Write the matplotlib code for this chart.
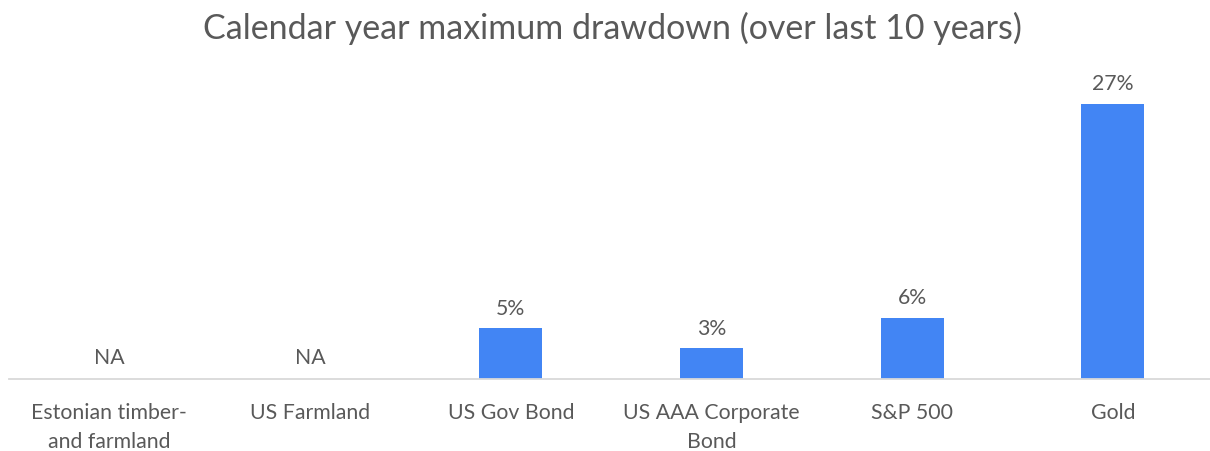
import numpy as np
import matplotlib
matplotlib.use("Agg")
import matplotlib.pyplot as plt

categories = ["Estonian timber-\nand farmland", "US Farmland", "US Gov Bond",
              "US AAA Corporate\nBond", "S&P 500", "Gold"]
values = [np.nan, np.nan, 5, 3, 6, 27]

plt.rcParams['font.family'] = ['Lato', 'DejaVu Sans']
text_color = "#595959"
bar_color = "#4285F4"

W, H = 1210, 452
fig = plt.figure(figsize=(W / 100, H / 100), dpi=100)
left_px, right_px = 9, 1210
base_px, top_px = 380, 74
ax = fig.add_axes([left_px / W, (H - base_px) / H, (right_px - left_px) / W, (base_px - top_px) / H])

x = np.arange(len(categories))
vals = np.array(values, dtype=float)
ax.bar(x, np.nan_to_num(vals), width=0.315, color=bar_color, zorder=2)

cat_w = 200.7
ax.set_xlim(-0.5, -0.5 + (right_px - left_px) / cat_w)
ax.set_ylim(0, 30)

fs = 15.3
for xi, v in zip(x, vals):
    if np.isnan(v):
        ax.annotate("NA", (xi, 0), xytext=(0, 8.5), textcoords="offset points",
                    ha="center", va="bottom", fontsize=fs, color=text_color)
    else:
        ax.annotate(f"{v:.0f}%", (xi, v), xytext=(0, 7.5), textcoords="offset points",
                    ha="center", va="bottom", fontsize=fs, color=text_color)

ax.set_xticks(x)
ax.set_xticklabels(categories, fontsize=fs, color=text_color, linespacing=1.55)
ax.tick_params(axis="x", length=0, pad=16.5)
ax.set_yticks([])
for s in ["top", "left", "right"]:
    ax.spines[s].set_visible(False)
ax.spines["bottom"].set_color("#D9D9D9")
ax.spines["bottom"].set_linewidth(1.3)

fig.text(0.506, 1 - 28 / H, "Calendar year maximum drawdown (over last 10 years)",
         ha="center", va="center", fontsize=24.5, color=text_color)

fig.savefig("out.png", dpi=100)
